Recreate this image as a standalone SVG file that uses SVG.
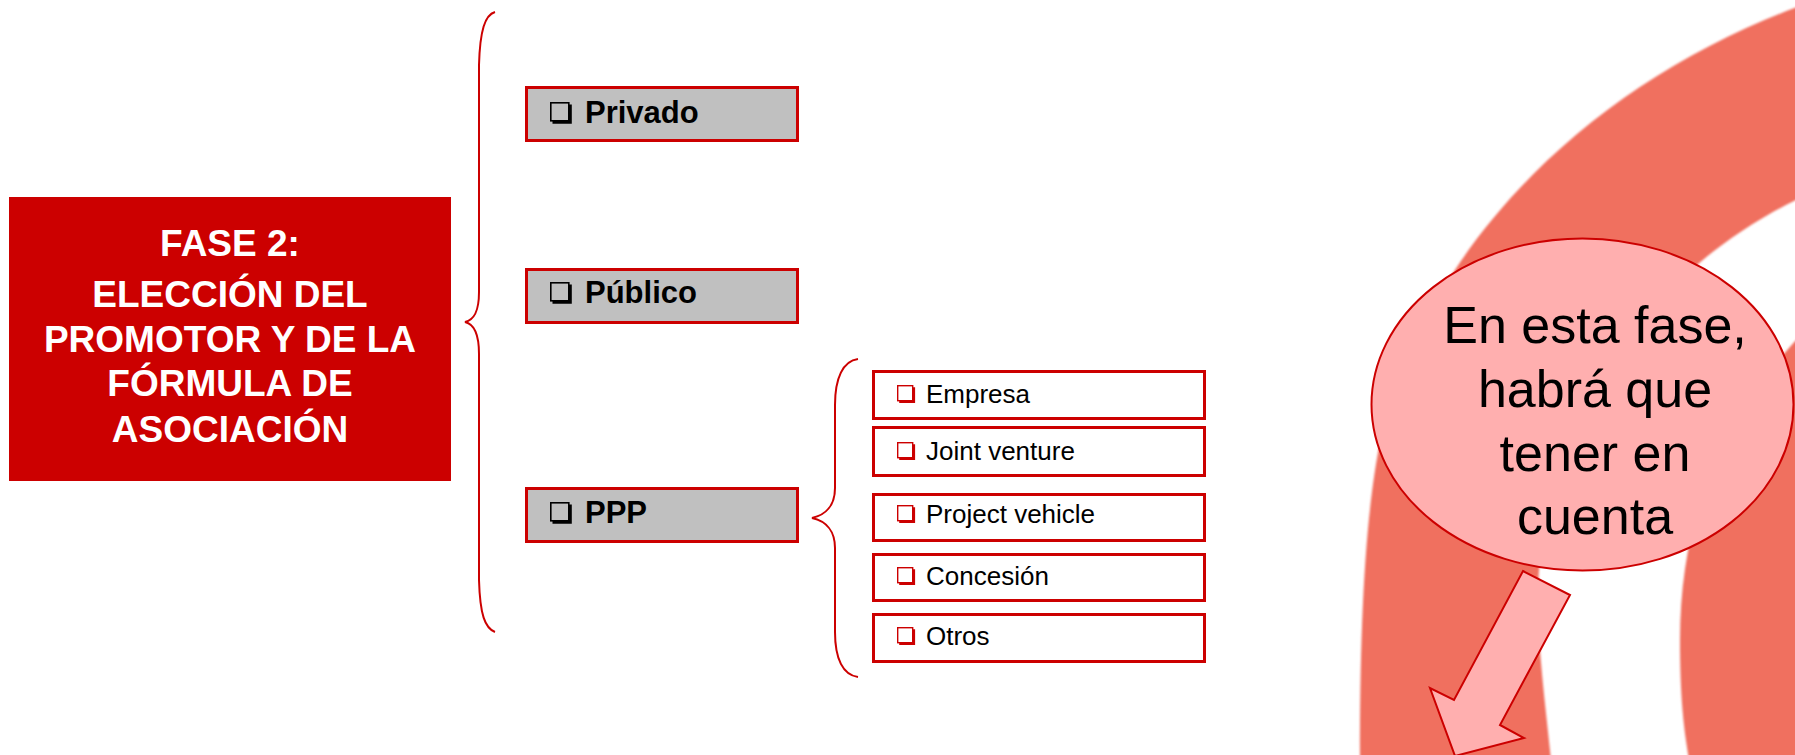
<svg xmlns="http://www.w3.org/2000/svg" width="1795" height="755" viewBox="0 0 1795 755">
<style>
.main{fill:#CC0000}
.mainTxt{font-family:"Liberation Sans",Arial,sans-serif;font-weight:bold;font-size:37px;fill:#fff;text-anchor:middle}
.lvl1{fill:#C0C0C0;stroke:#CC0000;stroke-width:3}
.lvl1Txt{font-family:"Liberation Sans",Arial,sans-serif;font-weight:bold;font-size:31px;fill:#000}
.lvl2{fill:#fff;stroke:#CC0000;stroke-width:3}
.lvl2Txt{font-family:"Liberation Sans",Arial,sans-serif;font-size:26px;fill:#000}
.brace{fill:none;stroke:#CC0000;stroke-width:2}
.ring{fill:#F06F5E}
.bubble{fill:#FFAFAF;stroke:#CC0000;stroke-width:2}
.bubbleTxt{font-family:"Liberation Sans",Arial,sans-serif;font-size:52px;fill:#000;text-anchor:middle}
</style>
<defs>
<filter id="soft" x="-5%" y="-5%" width="110%" height="110%">
<feGaussianBlur stdDeviation="1.2"/>
</filter>
<g id="cbBlack">
<rect x="0.8" y="0.8" width="18" height="18" fill="none" stroke="#000" stroke-width="1.6"/>
<path d="M20.3,2.5 V20.3 H2.5" fill="none" stroke="#000" stroke-width="3"/>
</g>
<g id="cbRed">
<rect x="0.7" y="0.7" width="15" height="15" fill="#fff" stroke="#CC0000" stroke-width="1.4"/>
<path d="M16.8,2.2 V16.8 H2.2" fill="none" stroke="#CC0000" stroke-width="2.6"/>
</g>
</defs>

<g id="background-ring" filter="url(#soft)">
<path class="ring" d="M1800,6 C1600,80 1440,230 1385,420 C1365,500 1360,620 1360,760 L1551,760 C1545,700 1538,650 1538,600 C1538,420 1650,270 1800,198 Z"/>
<path class="ring" d="M1800,336 C1720,420 1680,520 1680,640 C1680,700 1684,730 1689,760 L1800,760 Z"/>
</g>

<g id="connectors">
<path class="brace" d="M495,12 C485,15 480,30 479,65 L479,292 C479,312 474,320 465,322 C474,324 479,334 479,354 L479,580 C480,615 485,628 495,632"/>
<path class="brace" d="M858,359 C843,361 835,378 835,405 L835,488 C835,505 826,515 812,518 C826,521 835,531 835,548 L835,632 C835,659 843,675 858,677"/>
</g>

<g id="node-fase2">
<rect class="main" x="9" y="197" width="442" height="284"/>
<text class="mainTxt" x="230" y="256">FASE 2:</text>
<text class="mainTxt" x="230" y="307">ELECCIÓN DEL</text>
<text class="mainTxt" x="230" y="352">PROMOTOR Y DE LA</text>
<text class="mainTxt" x="230" y="396">FÓRMULA DE</text>
<text class="mainTxt" x="230" y="442">ASOCIACIÓN</text>
</g>

<g id="node-privado">
<rect class="lvl1" x="526.5" y="87.5" width="271" height="53"/>
<use href="#cbBlack" x="550" y="102"/>
<text class="lvl1Txt" x="585" y="123">Privado</text>
</g>
<g id="node-publico">
<rect class="lvl1" x="526.5" y="269.5" width="271" height="53"/>
<use href="#cbBlack" x="550" y="282"/>
<text class="lvl1Txt" x="585" y="303">Público</text>
</g>
<g id="node-ppp">
<rect class="lvl1" x="526.5" y="488.5" width="271" height="53"/>
<use href="#cbBlack" x="550" y="502"/>
<text class="lvl1Txt" x="585" y="523">PPP</text>
</g>

<g id="node-empresa">
<rect class="lvl2" x="873.5" y="371.5" width="331" height="47"/>
<use href="#cbRed" x="897" y="385"/>
<text class="lvl2Txt" x="926" y="403">Empresa</text>
</g>
<g id="node-joint">
<rect class="lvl2" x="873.5" y="427.5" width="331" height="48"/>
<use href="#cbRed" x="897" y="442"/>
<text class="lvl2Txt" x="926" y="460">Joint venture</text>
</g>
<g id="node-project">
<rect class="lvl2" x="873.5" y="494.5" width="331" height="46"/>
<use href="#cbRed" x="897" y="505"/>
<text class="lvl2Txt" x="926" y="523">Project vehicle</text>
</g>
<g id="node-concesion">
<rect class="lvl2" x="873.5" y="554.5" width="331" height="46"/>
<use href="#cbRed" x="897" y="567"/>
<text class="lvl2Txt" x="926" y="585">Concesión</text>
</g>
<g id="node-otros">
<rect class="lvl2" x="873.5" y="614.5" width="331" height="47"/>
<use href="#cbRed" x="897" y="627"/>
<text class="lvl2Txt" x="926" y="645">Otros</text>
</g>

<g id="node-callout">
<ellipse class="bubble" cx="1582.5" cy="404.5" rx="211" ry="166"/>
<text class="bubbleTxt" x="1595" y="343">En esta fase,</text>
<text class="bubbleTxt" x="1595" y="407">habrá que</text>
<text class="bubbleTxt" x="1595" y="471">tener en</text>
<text class="bubbleTxt" x="1595" y="534">cuenta</text>
</g>

<g id="node-arrow">
<path class="bubble" stroke-width="1.5" d="M1523,571 L1570,595 L1500,725 L1524,738 L1455,756 L1430,688 L1454,700 Z"/>
</g>
</svg>
